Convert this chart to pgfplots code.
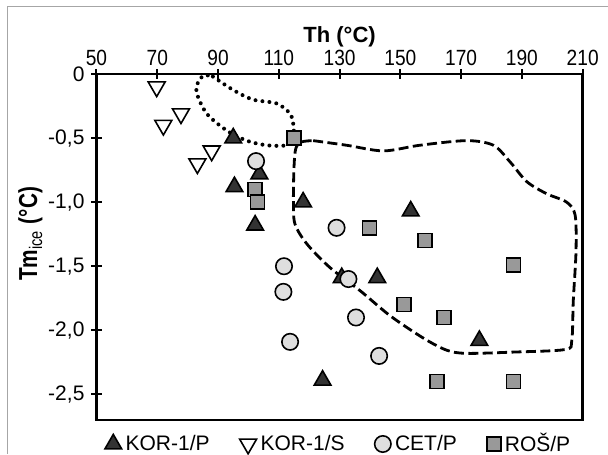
\documentclass[border=0pt]{standalone}
\usepackage{fontspec}
\setmainfont{Liberation Sans}
\newfontfamily\narrowfont[FakeStretch=0.87]{Liberation Sans}
\newfontfamily\ylabfont[FakeStretch=0.8]{Liberation Sans}
\usepackage{pgfplots}
\pgfplotsset{compat=1.18}

\definecolor{korp}{gray}{0.2}
\definecolor{cetp}{gray}{0.87}
\definecolor{rosp}{gray}{0.6}

\begin{document}
\begin{tikzpicture}
    \useasboundingbox (-48.25pt,-17pt) rectangle (255.75pt,210pt);
    % outer frame (only top and left are visible in the reference)
    \draw[gray!70, line width=0.5pt] (-44.25pt,-17pt) -- (-44.25pt,206.5pt) -- (255.75pt,206.5pt);

    \begin{axis}[
            scale only axis,
            width=243.1pt,
            height=173pt,
            xmin=50, xmax=210,
            ymin=-2.7, ymax=0,
            xtick={50,70,...,210},
            ytick={-2.5,-2,-1.5,-1,-0.5,0},
            yticklabels={{-2,5},{-2,0},{-1,5},{-1,0},{-0,5},{0}},
            xtick pos=right,
            xticklabel pos=right,
            ytick pos=left,
            tick align=center,
            major tick length=5pt,
            axis line style={line width=1.3pt},
            every tick/.style={black, line width=1pt},
            x tick label style={font=\narrowfont\fontsize{11}{13}\selectfont, /pgf/number format/assume math mode=true, yshift=-2pt},
            y tick label style={font=\fontsize{10.5}{12}\selectfont},
            xlabel={\bfseries Th (°C)},
            xlabel style={at={(axis description cs:0.5,1.108)}, anchor=center, font=\fontsize{11}{13}\selectfont},
            ylabel={\bfseries Tm\textsubscript{\mdseries ice} (°C)},
            ylabel style={at={(axis description cs:-0.1357,0.538)}, anchor=center, font=\ylabfont\fontsize{13}{15}\selectfont},
            legend columns=4,
            legend style={
                    at={(axis description cs:0.5,0)},
                    anchor=center,
                    yshift=-12pt,
                    draw=none,
                    fill=none,
                    font=\fontsize{10.5}{12}\selectfont,
                    /tikz/every even column/.append style={column sep=13pt},
                },
            legend image code/.code={
                    \draw[mark repeat=2,mark phase=2,#1] plot coordinates {(0pt,0pt) (5pt,0pt) (10pt,0pt)};
                },
        ]
        % dotted field
        \addplot[black, line width=2pt, line cap=round, dash pattern=on 0pt off 3.5pt, smooth, forget plot] coordinates {
                (88.3,-0.02) (95,-0.125) (101.5,-0.20) (109.3,-0.23) (113.7,-0.31)
                (114.8,-0.40) (114.8,-0.50) (112.6,-0.556) (106,-0.556) (99.4,-0.52)
                (92.8,-0.44) (86.3,-0.31) (83,-0.15) (83.5,-0.06) (85.5,-0.01) (88.3,-0.02)
            };
        % dashed field
        \addplot[black, line width=1.4pt, dash pattern=on 5pt off 2.2pt, smooth, forget plot] coordinates {
                (121.3,-0.52) (132.3,-0.556) (144.4,-0.60) (156.4,-0.556) (171.8,-0.52)
                (180.6,-0.556) (186.1,-0.686) (191.6,-0.84) (198.1,-0.934) (204.7,-1.0)
                (207.5,-1.10) (207.8,-1.38) (206.9,-1.77) (206.4,-2.08) (204.2,-2.15)
                (187.2,-2.17) (171.8,-2.18) (165.2,-2.155) (157.5,-2.06) (146.6,-1.886)
                (136.7,-1.69) (126.8,-1.51) (119.2,-1.325) (115.3,-1.17) (114.8,-0.99)
                (115,-0.725) (115.6,-0.58) (117.5,-0.53) (121.3,-0.52)
            };

        % KOR-1/P
        \addplot[only marks, mark=triangle*, mark size=4.8pt,
            mark options={draw=black, fill=korp, line width=0.8pt}] coordinates {
                (95,-0.5) (103.6,-0.78) (95.4,-0.88) (102.2,-1.18) (118,-1.0)
                (153.4,-1.07) (130.7,-1.59) (142.4,-1.59) (176,-2.08) (124.4,-2.39)
            };
        % KOR-1/S
        \addplot[only marks, mark=triangle*, mark size=4.9pt,
            mark options={draw=black, fill=white, line width=0.8pt, rotate=180}] coordinates {
                (69.8,-0.1) (77.8,-0.31) (72,-0.4) (87.9,-0.6) (83.2,-0.7)
            };
        % CET/P
        \addplot[only marks, mark=*, mark size=4.1pt,
            mark options={draw=black, fill=cetp, line width=0.8pt}] coordinates {
                (102.5,-0.68) (129,-1.2) (111.7,-1.5) (111.5,-1.7) (113.7,-2.09)
                (132.9,-1.6) (135.4,-1.9) (143,-2.2)
            };
        % ROŠ/P
        \addplot[only marks, mark=square*, mark size=3.5pt,
            mark options={draw=black, fill=rosp, line width=0.8pt}] coordinates {
                (115,-0.5) (102.2,-0.9) (103,-1.0) (139.8,-1.2) (158.1,-1.3)
                (187.2,-1.49) (151.2,-1.8) (164.3,-1.9) (162.1,-2.4) (187.2,-2.4)
            };
        \legend{KOR-1/P, KOR-1/S, CET/P, ROŠ/P}
    \end{axis}
\end{tikzpicture}
\end{document}
